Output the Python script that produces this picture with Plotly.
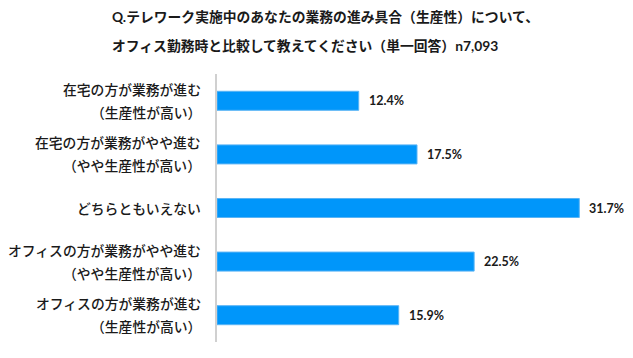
import plotly.graph_objects as go

labels_line1 = ["在宅の方が業務が進む", "在宅の方が業務がやや進む", "どちらともいえない",
                "オフィスの方が業務がやや進む", "オフィスの方が業務が進む"]
labels_line2 = ["（生産性が高い）", "（やや生産性が高い）", "",
                "（やや生産性が高い）", "（生産性が高い）"]
values = [12.4, 17.5, 31.7, 22.5, 15.9]
title_lines = ["Q.テレワーク実施中のあなたの業務の進み具合（生産性）について、",
               "オフィス勤務時と比較して教えてください（単一回答）n7,093"]

JP = "'Noto Sans CJK JP', sans-serif"
LAT = "Lato, 'Noto Sans CJK JP', sans-serif"

fig = go.Figure(go.Bar(
    x=values, y=labels_line1, orientation="h",
    marker=dict(color="#0096FA", line=dict(color="#5AB4F5", width=1)),
    hoverinfo="skip",
))

# page body has an 8px default margin; compensate
OFF = 8
W, H = 633 - OFF, 358 - OFF
ml, mr, mt, mb = 217 - OFF, 16, 74 - OFF, 16
pw = W - ml - mr

lab_font = dict(family=JP, size=13.8, color="#1a1a1a", weight=500)
ann = []
for l1, l2, v in zip(labels_line1, labels_line2, values):
    if l2:
        ann.append(dict(x=0, y=l1, xref="x", yref="y", text=l1, showarrow=False,
                        xanchor="right", yanchor="middle", xshift=-14, yshift=12,
                        font=lab_font))
        ann.append(dict(x=0, y=l1, xref="x", yref="y", text=l2, showarrow=False,
                        xanchor="right", yanchor="middle", xshift=-14, yshift=-11,
                        font=lab_font))
    else:
        ann.append(dict(x=0, y=l1, xref="x", yref="y", text=l1, showarrow=False,
                        xanchor="right", yanchor="middle", xshift=-14,
                        font=lab_font))
    ann.append(dict(x=v, y=l1, xref="x", yref="y", text=f"<b>{v:.1f}%</b>", showarrow=False,
                    xanchor="left", yanchor="middle", xshift=8,
                    font=dict(family=LAT, size=12.5, color="#1a1a1a")))

for i, t in enumerate(title_lines):
    ann.append(dict(x=(110 - 217) / pw, y=1, xref="paper", yref="paper", text=f"<b>{t}</b>",
                    showarrow=False, xanchor="left", yanchor="middle",
                    yshift=(74 - 16) if i == 0 else (74 - 45),
                    font=dict(family=LAT, size=13.8, color="#1a1a1a")))

fig.update_layout(
    width=W, height=H, margin=dict(l=ml, r=mr, t=mt, b=mb),
    paper_bgcolor="white", plot_bgcolor="white",
    bargap=0.645, showlegend=False,
    xaxis=dict(range=[0, 35], showgrid=False, zeroline=False, showticklabels=False,
               showline=False, ticks=""),
    yaxis=dict(autorange="reversed", showgrid=False, zeroline=False, showticklabels=False,
               showline=True, linecolor="#D0D0D0", linewidth=1.5, ticks=""),
    annotations=ann,
)

fig.write_html("out.html")
